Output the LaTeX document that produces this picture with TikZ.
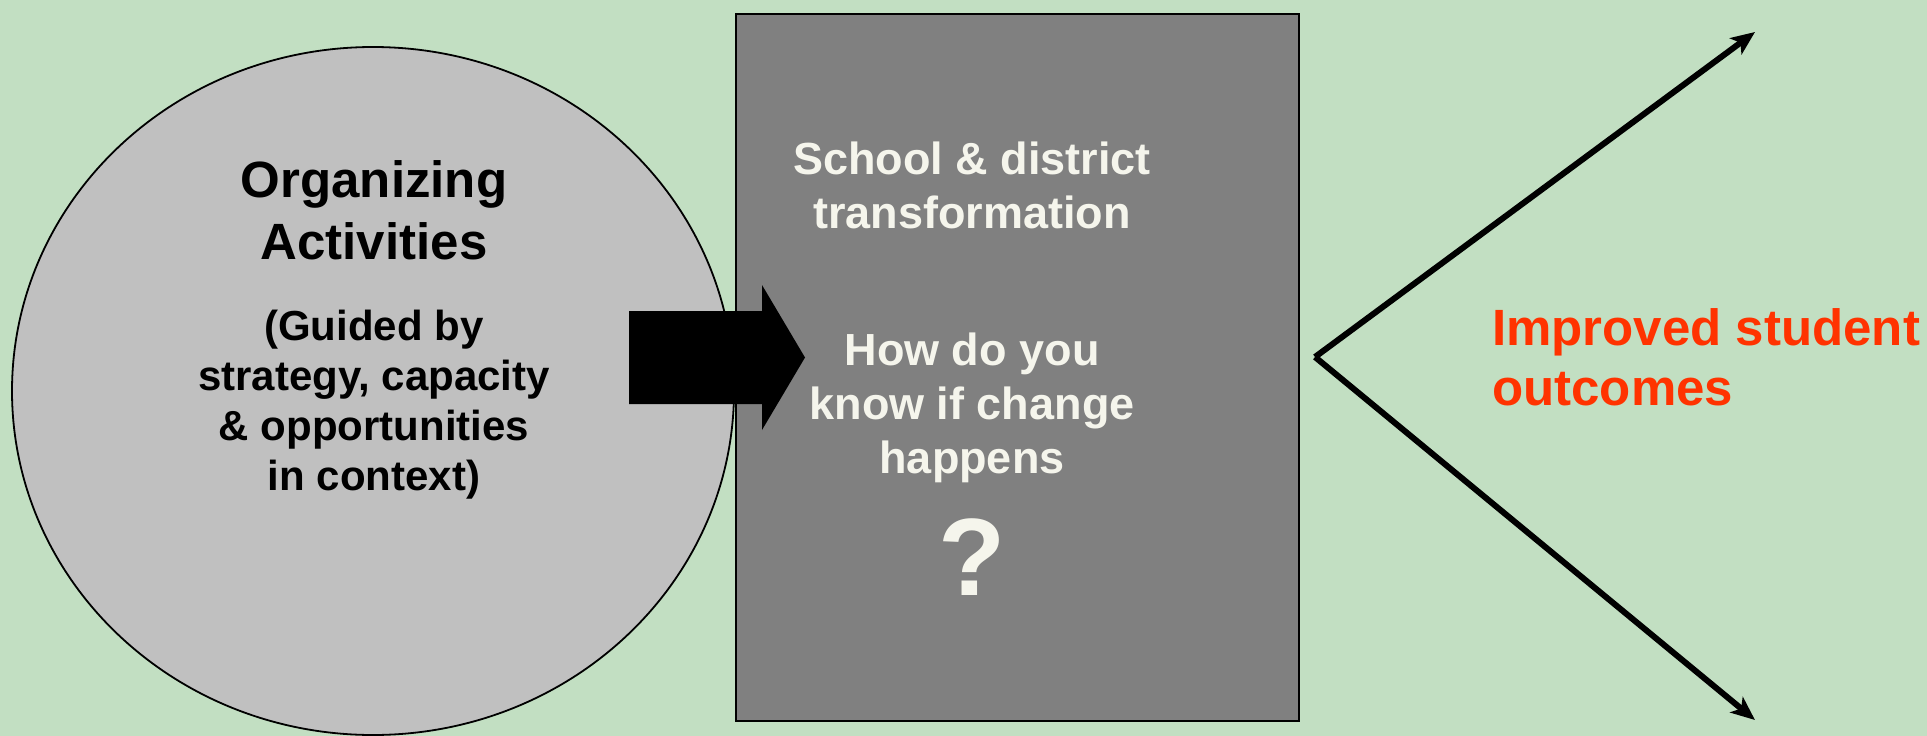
\documentclass[tikz,border=0pt]{standalone}
\usepackage{fontspec}
\setmainfont{Liberation Sans}
\usetikzlibrary{arrows.meta,shapes.geometric}
\definecolor{bggreen}{RGB}{194,223,194}
\definecolor{circgray}{RGB}{192,192,192}
\definecolor{rectgray}{RGB}{128,128,128}
\definecolor{cream}{RGB}{245,245,236}
\definecolor{outred}{RGB}{255,51,0}
\tikzset{
  lbl/.style={inner sep=0pt, align=center, anchor=base, font=\bfseries},
  outarrow/.style={line width=6pt, -{Stealth[length=24pt,width=20pt,inset=6pt]}, line join=miter}
}
\begin{document}
\begin{tikzpicture}[x=1pt,y=-1pt]
\fill[bggreen] (0,0) rectangle (1927,736);
\useasboundingbox (0,0) rectangle (1927,736);
% circle
\node[ellipse, draw=black, line width=1.8pt, fill=circgray, minimum width=722pt, minimum height=688pt, inner sep=0pt] (circ) at (373,391) {};
% rectangle
\node[rectangle, draw=black, line width=2pt, fill=rectgray, minimum width=563pt, minimum height=707pt, inner sep=0pt, anchor=north west] (box) at (735,13) {};
% texts in circle (anchor = baseline of last line)
\node[lbl, font=\bfseries\fontsize{51}{62}\selectfont] (org) at (374,259) {Organizing\\Activities};
\node[lbl, font=\bfseries\fontsize{42}{50}\selectfont] (guide) at (374,490) {(Guided by\\strategy, capacity\\\& opportunities\\in context)};
% texts in box
\node[lbl, text=cream, font=\bfseries\fontsize{45}{54}\selectfont] (school) at (972,228) {School \& district\\transformation};
\node[lbl, text=cream, font=\bfseries\fontsize{45}{54}\selectfont] (how) at (972,473) {How do you\\know if change\\happens};
\node[lbl, text=cream, font=\bfseries\fontsize{110}{110}\selectfont] (q) at (972,595) {?};
% outcome text
\node[inner sep=0pt, align=left, anchor=base west, text=outred, font=\bfseries\fontsize{51}{60}\selectfont] (out) at (1492,405) {Improved student\\outcomes};
% big arrow
\fill[black] (629,311) -- (762,311) -- (762,285) -- (805,357.5) -- (762,430) -- (762,404) -- (629,404) -- cycle;
% diverging arrows
\coordinate (v) at (1315,357);
\coordinate (up) at (1755,32);
\coordinate (down) at (1755,720);
\draw[outarrow] (v) -- (up);
\draw[outarrow] (v) -- (down);
\end{tikzpicture}
\end{document}
